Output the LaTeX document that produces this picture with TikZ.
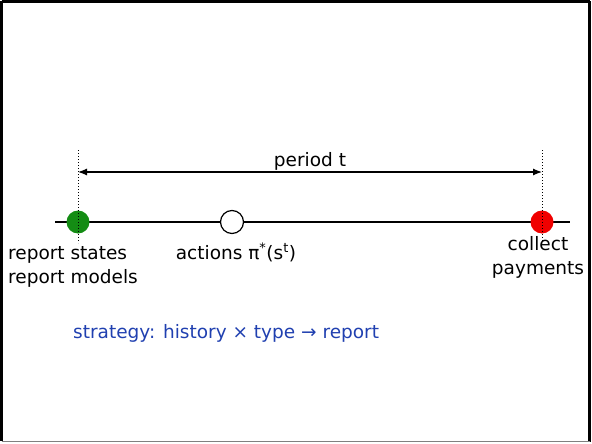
\documentclass[tikz,border=0pt]{standalone}
\usepackage{fontspec}
\setmainfont{DejaVu Sans}
\usetikzlibrary{arrows.meta}
\definecolor{stratblue}{RGB}{32,64,176}
\definecolor{dotgreen}{RGB}{20,140,20}
\definecolor{dotred}{RGB}{240,0,0}
\tikzset{
  lbl/.style={font=\fontsize{18.5}{22}\selectfont, inner sep=0pt},
  event/.style={circle, minimum size=23pt, inner sep=0pt, line width=1.2pt},
  guide/.style={dotted, line width=1pt},
}
\begin{document}
\begin{tikzpicture}[x=1pt,y=-1pt]
\useasboundingbox (0,0) rectangle (592,444);
% frame
\draw[line width=2.5pt] (1.5,1.5) -- (589.5,1.5);
\draw[line width=2.5pt] (1.5,1.5) -- (1.5,441);
\draw[line width=3pt] (589.5,1.5) -- (589.5,442);
\draw[line width=1pt, gray] (1.5,441.5) -- (589.5,441.5);
% time axis
\coordinate (axL) at (55,222);
\coordinate (axR) at (570,222);
\draw[line width=1.2pt] (axL) -- (axR);
\node[event, fill=dotgreen] (start) at (78,222) {};
\node[event, draw, fill=white] (act) at (232,222) {};
\node[event, fill=dotred] (pay) at (542,222) {};
% period guides
\coordinate (gLt) at (78,150);
\coordinate (gLb) at (78,243);
\coordinate (gRt) at (542,150);
\coordinate (gRb) at (542,243);
\draw[guide] (gLt) -- (gLb);
\draw[guide] (gRt) -- (gRb);
\coordinate (pL) at (78,172);
\coordinate (pR) at (542,172);
\draw[line width=1.2pt, {Latex[length=9pt,width=7pt]}-{Latex[length=9pt,width=7pt]}] (pL) -- (pR);
\node[lbl, anchor=base] (period) at (310,166) {period t};
% labels
\node[lbl, anchor=base west] (rs) at (8,259) {report states};
\node[lbl, anchor=base west] (rm) at (8,283) {report models};
\node[lbl, anchor=base] (actl) at (236,259) {actions π\textsuperscript{*}(s\textsuperscript{t})};
\node[lbl, anchor=base] (coll) at (538,250) {collect};
\node[lbl, anchor=base] (paym) at (538,274) {payments};
\node[lbl, anchor=base west, text=stratblue] (strat) at (73,338) {strategy: history × type → report};
\end{tikzpicture}
\end{document}
